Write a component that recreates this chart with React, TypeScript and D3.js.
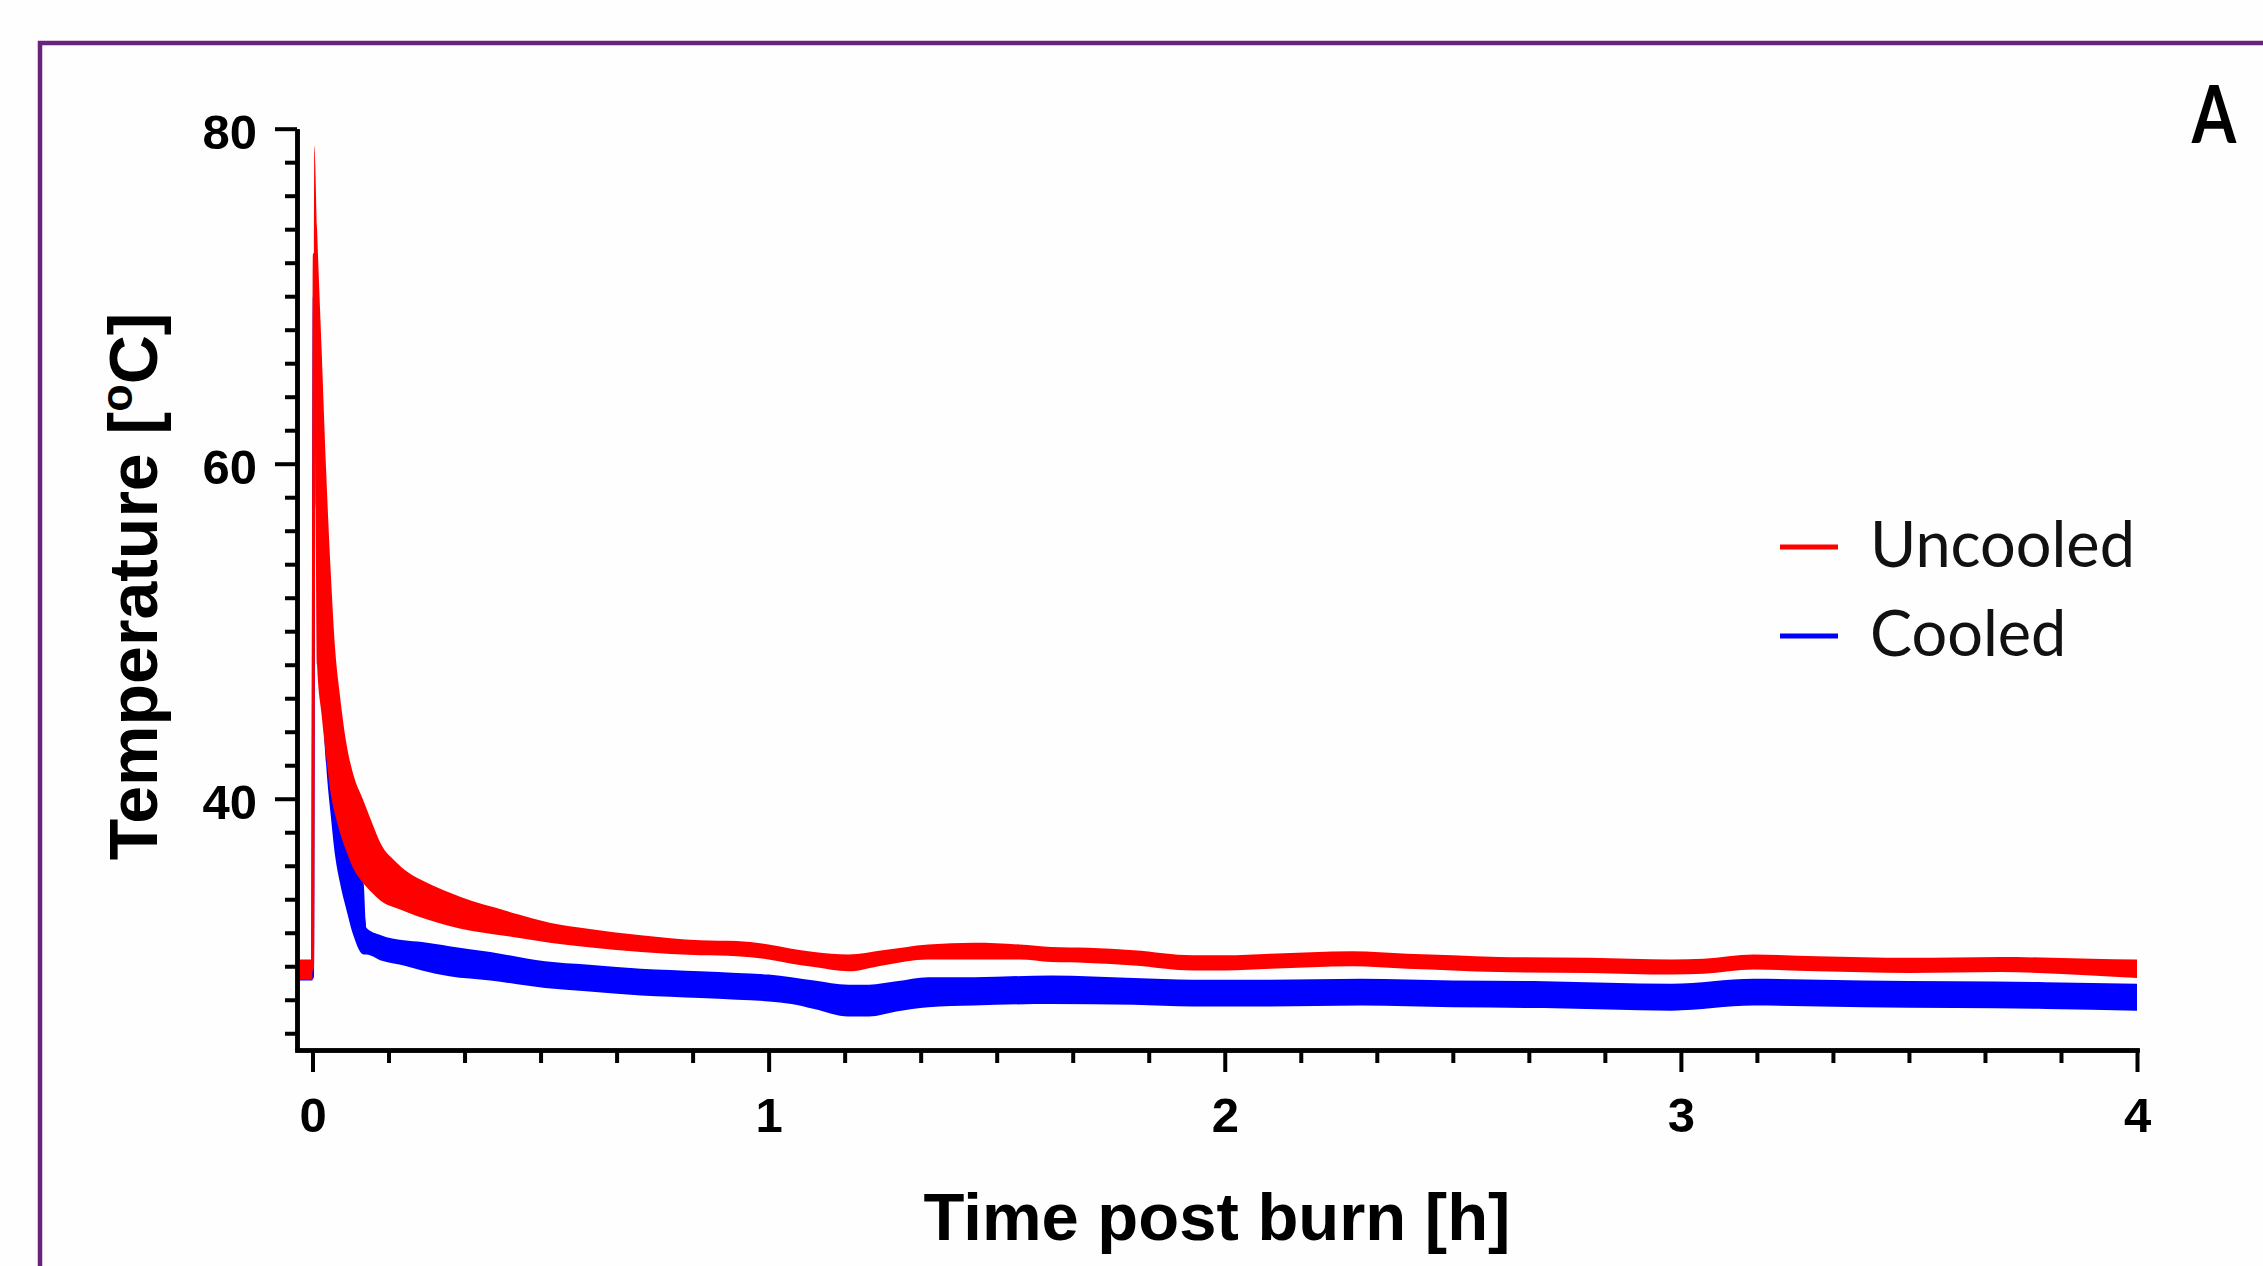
import React, { useRef, useEffect } from 'react';
import * as d3 from 'd3';

const W = 2263;
const H = 1266;

// time post burn [h], mean and SD of temperature [°C]
const uncooledTime = [-0.034, -0.001, 0, 0.004, 0.01, 0.02, 0.03, 0.04, 0.05, 0.06, 0.075, 0.09, 0.11, 0.13, 0.15, 0.18, 0.21, 0.25, 0.3, 0.35, 0.4, 0.45, 0.52, 0.6, 0.72, 0.85, 0.93, 1.0, 1.05, 1.1, 1.175, 1.25, 1.35, 1.45, 1.55, 1.62, 1.7, 1.8, 1.93, 2.0, 2.1, 2.28, 2.4, 2.5, 2.6, 2.8, 2.98, 3.05, 3.16, 3.3, 3.5, 3.7, 3.9, 4.0];
const uncooledMean = [29.8, 29.8, 30.0, 72.5, 61.0, 55.9, 51.0, 46.9, 43.9, 42.1, 40.0, 38.6, 37.5, 36.5, 35.6, 34.9, 34.4, 33.9, 33.4, 33.0, 32.7, 32.4, 32.0, 31.7, 31.35, 31.1, 31.05, 30.85, 30.6, 30.4, 30.2, 30.5, 30.85, 30.9, 30.85, 30.7, 30.65, 30.5, 30.2, 30.2, 30.3, 30.45, 30.3, 30.2, 30.1, 30.05, 29.95, 30.0, 30.25, 30.15, 30.05, 30.1, 29.95, 29.85];
const uncooledSd = [0.6, 0.6, 0.6, 6.5, 13.0, 10.9, 8.5, 6.6, 4.9, 4.1, 3.2, 2.8, 2.5, 2.1, 1.7, 1.4, 1.2, 1.1, 1.0, 0.9, 0.8, 0.7, 0.6, 0.55, 0.5, 0.45, 0.45, 0.45, 0.45, 0.45, 0.5, 0.45, 0.45, 0.5, 0.45, 0.45, 0.45, 0.45, 0.45, 0.45, 0.45, 0.45, 0.45, 0.45, 0.45, 0.45, 0.45, 0.45, 0.45, 0.45, 0.45, 0.45, 0.5, 0.55];

const cooledTime = [-0.034, -0.001, 0, 0.004, 0.01, 0.02, 0.03, 0.04, 0.05, 0.06, 0.075, 0.09, 0.112, 0.118, 0.15, 0.2, 0.24, 0.3, 0.39, 0.51, 0.6, 0.72, 0.85, 0.93, 1.0, 1.05, 1.1, 1.175, 1.22, 1.28, 1.35, 1.45, 1.62, 1.8, 1.93, 2.1, 2.3, 2.5, 2.7, 2.98, 3.16, 3.4, 3.6, 3.8, 4.0];
const cooledMean = [29.3, 29.3, 29.4, 70, 63, 54, 47, 43, 40, 38, 36, 34.3, 32.85, 31.5, 31.1, 30.8, 30.6, 30.3, 30.0, 29.5, 29.3, 29.05, 28.9, 28.8, 28.7, 28.55, 28.3, 27.95, 27.95, 28.2, 28.45, 28.5, 28.6, 28.5, 28.4, 28.4, 28.45, 28.35, 28.3, 28.15, 28.45, 28.35, 28.3, 28.25, 28.15];
const cooledSd = [0.15, 0.15, 0.2, 4, 6, 7, 5, 4, 3.5, 3, 2.7, 2.5, 2.15, 0.8, 0.75, 0.75, 0.85, 0.9, 0.85, 0.8, 0.8, 0.8, 0.8, 0.8, 0.8, 0.8, 0.85, 0.95, 0.95, 0.9, 0.9, 0.85, 0.85, 0.8, 0.8, 0.8, 0.8, 0.8, 0.8, 0.8, 0.8, 0.8, 0.8, 0.8, 0.8];

const yMajorTicks = [40, 60, 80];
const xMajorTicks = [0, 1, 2, 3, 4];
const seriesNames = ['Uncooled', 'Cooled'];
const seriesColors = ['#ff0000', '#0000ff'];

const axisFont = '"Liberation Sans", Arial, sans-serif';

export default function App() {
  const xAxisEl = useRef<SVGGElement>(null);
  const yAxisEl = useRef<SVGGElement>(null);

  const plot = { left: 297, right: 2137, top: 128.7, bottom: 1050 };

  const xScale = d3.scaleLinear().domain([-0.034, 4]).range([plot.left, plot.right]);
  const yScale = d3.scaleLinear().domain([25, 80]).range([plot.bottom, plot.top]);

  const yMinor = d3.range(26, 80, 2).filter((v) => !yMajorTicks.includes(v));
  const xMinor = d3.range(1, 24).filter((i) => i % 6 !== 0).map((i) => i / 6);

  useEffect(() => {
    const gx = d3.select(xAxisEl.current);
    const gy = d3.select(yAxisEl.current);
    gx.selectAll('*').remove();
    gy.selectAll('*').remove();

    gx.append('g').call(d3.axisBottom(xScale).tickValues(xMinor).tickSize(13).tickSizeOuter(0).tickFormat(() => ''));
    gx.append('g').call(d3.axisBottom(xScale).tickValues(xMajorTicks).tickSize(22).tickSizeOuter(0).tickPadding(25).tickFormat(d3.format('d')));
    gy.append('g').call(d3.axisLeft(yScale).tickValues(yMinor).tickSize(12).tickSizeOuter(0).tickFormat(() => ''));
    gy.append('g').call(d3.axisLeft(yScale).tickValues(yMajorTicks).tickSize(22).tickSizeOuter(0).tickPadding(18).tickFormat(d3.format('d')));

    [gx, gy].forEach((g) => {
      g.selectAll('path.domain').attr('stroke', '#000').attr('stroke-width', 4.5);
      g.selectAll('.tick line').attr('stroke', '#000').attr('stroke-width', 4);
      g.selectAll('.tick text')
        .attr('fill', '#000')
        .style('font-family', axisFont)
        .style('font-weight', 'bold')
        .style('font-size', '49px');
    });
    gy.selectAll('.tick text').attr('dy', '0.4em');
    gx.selectAll('path.domain').attr('stroke-linecap', 'square');
  }, []);

  const band = (time: number[], mean: number[], sd: number[]) =>
    d3
      .area<number>()
      .x((i) => xScale(time[i]))
      .y0((i) => yScale(mean[i] - sd[i]))
      .y1((i) => yScale(mean[i] + sd[i]))
      .curve(d3.curveMonotoneX)(d3.range(time.length));

  const meanLine = (time: number[], mean: number[]) =>
    d3
      .line<number>()
      .x((i) => xScale(time[i]))
      .y((i) => yScale(mean[i]))
      .curve(d3.curveMonotoneX)(d3.range(time.length));

  const legendY = [547, 636];

  return (
    <svg
      width={W}
      height={H}
      style={{ position: 'absolute', left: 0, top: 0, display: 'block', background: '#fefefe' }}
    >
      <rect x={40} y={43} width={W + 100} height={H + 100} fill="#fefefe" stroke="#6a237a" strokeWidth={4.5} />

      <path d={band(cooledTime, cooledMean, cooledSd) || ''} fill={seriesColors[1]} />
      <path d={meanLine(cooledTime, cooledMean) || ''} fill="none" stroke={seriesColors[1]} strokeWidth={3} />
      <path d={band(uncooledTime, uncooledMean, uncooledSd) || ''} fill={seriesColors[0]} />
      <path d={meanLine(uncooledTime, uncooledMean) || ''} fill="none" stroke={seriesColors[0]} strokeWidth={3} />

      <g ref={xAxisEl} transform={`translate(0, ${plot.bottom})`} />
      <g ref={yAxisEl} transform={`translate(${plot.left}, 0)`} />

      <text
        x={(plot.left + plot.right) / 2}
        y={1240}
        textAnchor="middle"
        style={{ fontFamily: axisFont, fontWeight: 'bold', fontSize: 67 }}
        fill="#000"
      >
        Time post burn [h]
      </text>
      <text
        transform={`translate(157, ${(plot.top + plot.bottom) / 2 - 3}) rotate(-90)`}
        textAnchor="middle"
        style={{ fontFamily: axisFont, fontWeight: 'bold', fontSize: 68 }}
        fill="#000"
      >
        Temperature [<tspan fontSize={45} dy={-25}>o</tspan>
        <tspan dy={25}>C]</tspan>
      </text>

      {seriesNames.map((name, i) => (
        <g key={name}>
          <line x1={1780} x2={1838} y1={legendY[i]} y2={legendY[i]} stroke={seriesColors[i]} strokeWidth={5} />
          <text
            x={1870}
            y={legendY[i] + 20}
            style={{ fontFamily: 'Lato, "Open Sans", sans-serif', fontSize: 63 }}
            fill="#111"
          >
            {name}
          </text>
        </g>
      ))}

      <text
        transform="translate(2214, 143) scale(0.8, 1)"
        textAnchor="middle"
        style={{ fontFamily: 'Lato, "Open Sans", sans-serif', fontWeight: 'bold', fontSize: 80 }}
        fill="#000"
      >
        A
      </text>
    </svg>
  );
}
